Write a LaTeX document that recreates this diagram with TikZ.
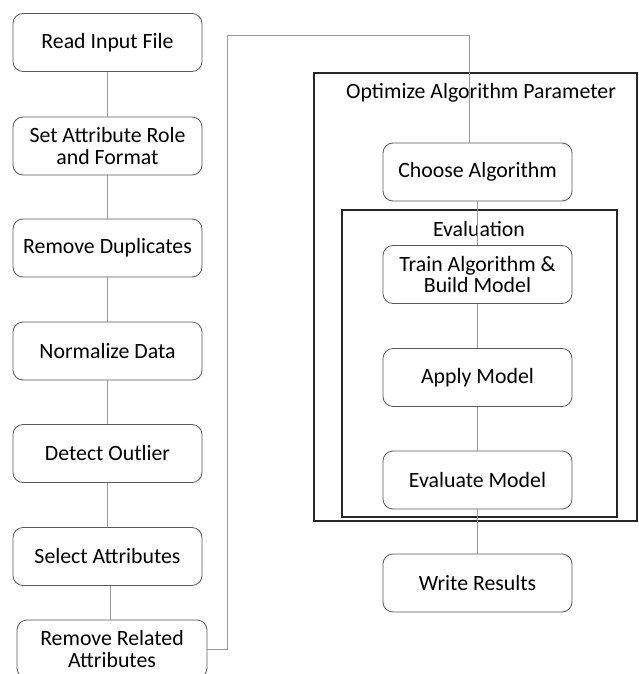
\documentclass[tikz,border=0pt]{standalone}
\usepackage{fontspec}
\setmainfont{Carlito}
\begin{document}
\begin{tikzpicture}[x=1pt,y=-1pt,
  stepbox/.style={draw=black!65,line width=0.8pt,rounded corners=10pt,minimum width=189pt,minimum height=58pt,inner sep=0pt,align=center,font=\fontsize{21.8}{21.8}\selectfont,text=black},
  conn/.style={draw=black!40,line width=0.8pt},
  frame/.style={draw=black!85,line width=1.3pt},
  lbl/.style={font=\fontsize{21.8}{21.8}\selectfont,text=black,inner sep=0pt}]
\useasboundingbox (0,0) rectangle (638,674);
% containers
\draw[frame] (314,73) rectangle (637,521);
\draw[frame] (342,210) rectangle (617,517);
% left column
\node[stepbox] (n1) at (107.5,42.5) {Read Input File};
\node[stepbox] (n2) at (107.5,146) {Set Attribute Role\\and Format};
\node[stepbox] (n3) at (107.5,248) {Remove Duplicates};
\node[stepbox] (n4) at (107.5,351) {Normalize Data};
\node[stepbox] (n5) at (107.5,453.5) {Detect Outlier};
\node[stepbox] (n6) at (107.5,556.5) {Select Attributes};
\node[stepbox,minimum width=190pt] (n7) at (112,649) {Remove Related\\Attributes};
% right column
\node[stepbox] (r1) at (477.5,172) {Choose Algorithm};
\node[stepbox] (r2) at (477.5,274.5) {Train Algorithm \&\\Build Model};
\node[stepbox] (r3) at (477.5,377.5) {Apply Model};
\node[stepbox] (r4) at (477.5,480) {Evaluate Model};
\node[stepbox] (r5) at (477.5,583) {Write Results};
% labels
\node[lbl] (t1) at (481,93) {Optimize Algorithm Parameter};
\node[lbl] (t2) at (479,229) {Evaluation};
% connectors
\draw[conn] (n1) -- (n2);
\draw[conn] (n2) -- (n3);
\draw[conn] (n3) -- (n4);
\draw[conn] (n4) -- (n5);
\draw[conn] (n5) -- (n6);
\draw[conn] (n6.south -| 110,0) -- (n7.north -| 110,0);
\coordinate (c1) at (227,35);
\coordinate (c2) at (469,35);
\draw[conn] (n7.east) -| (c1) -- (c2) -- (c2 |- r1.north);
\draw[conn] (r1) -- (r2);
\draw[conn] (r2) -- (r3);
\draw[conn] (r3) -- (r4);
\draw[conn] (r4) -- (r5);
\end{tikzpicture}
\end{document}
